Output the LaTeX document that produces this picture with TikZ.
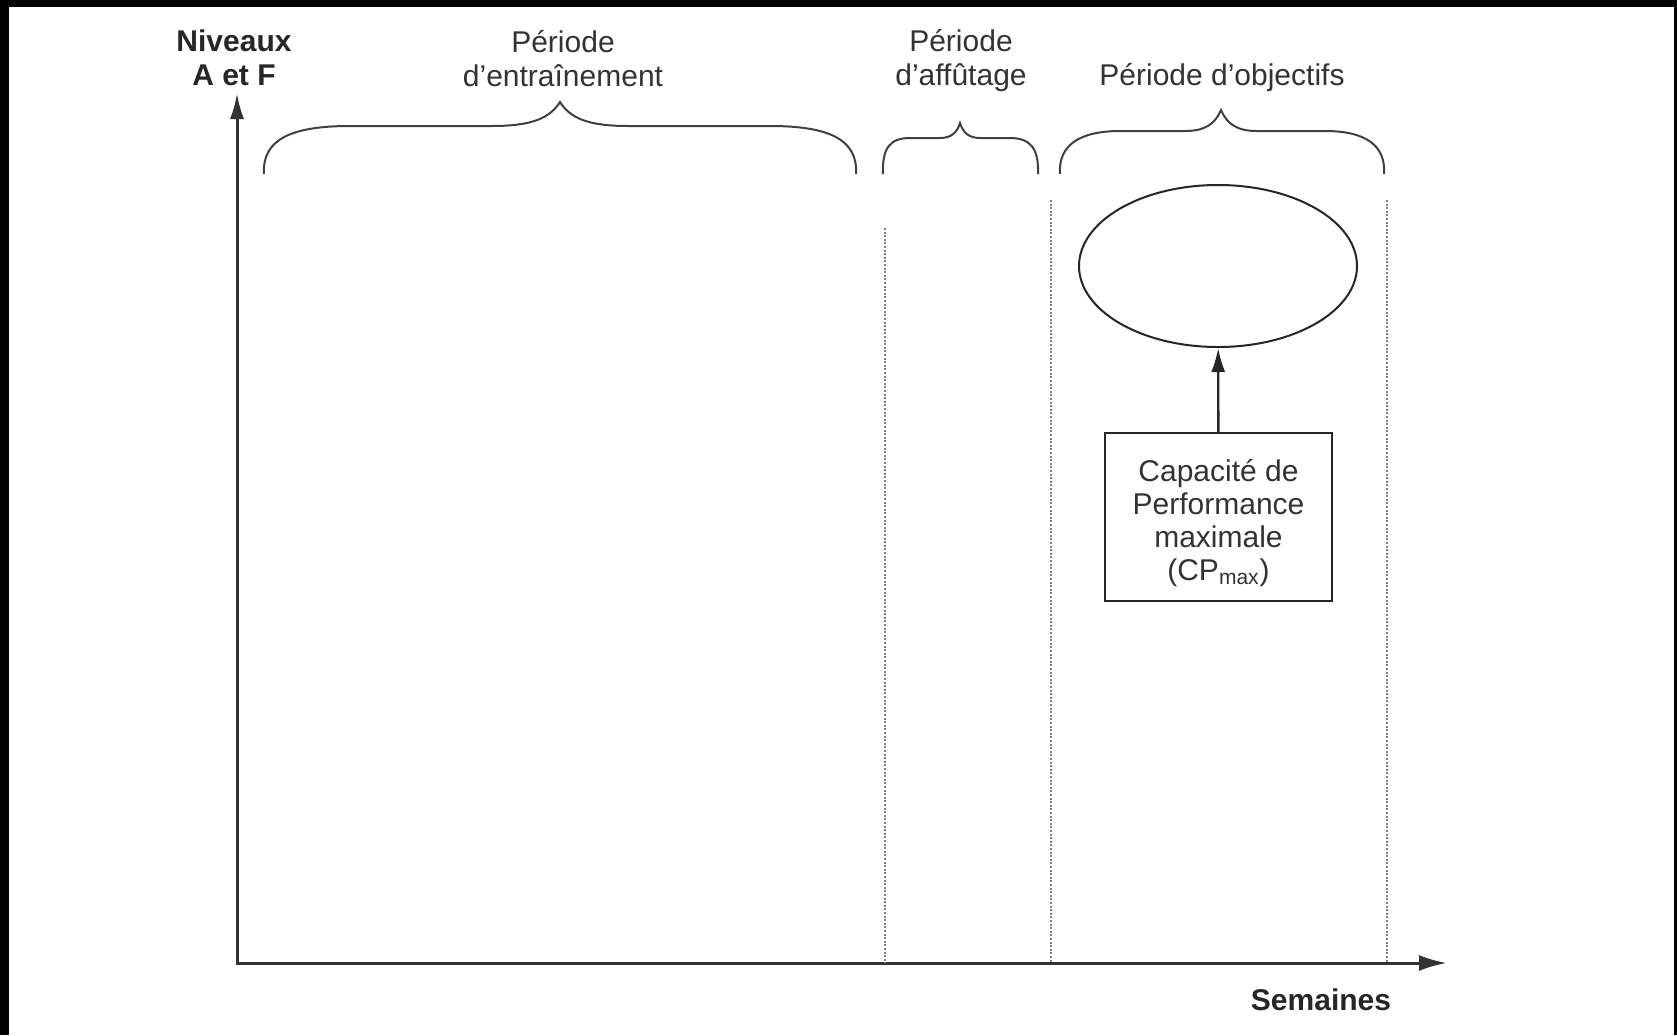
\documentclass[tikz,border=0pt]{standalone}
\usepackage{fontspec}
\setmainfont{Liberation Sans}
\usetikzlibrary{arrows.meta,shapes.geometric}

\begin{document}
\begin{tikzpicture}[x=0.5pt,y=-0.5pt,
  axes/.style={line width=1.5pt, draw=black!80, {Latex[length=13pt,width=7pt]}-{Latex[length=14pt,width=8pt]}},
  accolade/.style={line width=1pt, draw=black!75},
  limite/.style={line width=1.2pt, draw=black!50, dash pattern=on 1pt off 0.8pt},
  titre/.style={align=center, text=black!80, font=\fontsize{15pt}{17pt}\selectfont},
  titregras/.style={align=center, text=black!85, font=\fontsize{15pt}{17pt}\selectfont\bfseries},
  fleche/.style={line width=1.2pt, draw=black!85, -{Latex[length=12pt,width=7pt]}}]
\useasboundingbox (0,0) rectangle (1677,1035);
% Cadre
\fill[black] (0,0) rectangle (1677,1035);
\fill[white] (9,7) rectangle (1674,1035);
% Axes
\coordinate (origine) at (237,963);
\coordinate (ymax) at (237,93);
\coordinate (xmax) at (1447,963);
\draw[axes] (ymax) -- (origine) -- (xmax);
\node[titregras] (niveaux) at (234,58) {Niveaux\\A et F};
\node[titregras] (semaines) at (1321,1000) {Semaines};
% Limites des periodes
\coordinate (lim1) at (885,228);
\coordinate (lim2) at (1051,200);
\coordinate (lim3) at (1387,200);
\draw[limite] (lim1) -- (lim1 |- origine);
\draw[limite] (lim2) -- (lim2 |- origine);
\draw[limite] (lim3) -- (lim3 |- origine);
% Periode d'entrainement
\draw[accolade] (264,174) .. controls (262,140) and (290,126) .. (350,126) -- (492,126)
  .. controls (532,126) and (550,118) .. (560,102) .. controls (570,118) and (588,126) .. (628,126)
  -- (770,126) .. controls (830,126) and (858,140) .. (856,174);
\node[titre] (entr) at (563,59) {Période\\d'entraînement};
% Periode d'affutage
\draw[accolade] (883,174) .. controls (882,148) and (890,138) .. (910,138) -- (940,138)
  .. controls (952,138) and (957,132) .. (960,123) .. controls (963,132) and (968,138) .. (980,138)
  -- (1010,138) .. controls (1030,138) and (1039,148) .. (1038,174);
\node[titre] (affu) at (961,61) {Période\\d'affûtage};
% Periode d'objectifs
\draw[accolade] (1060,174) .. controls (1058,145) and (1080,131) .. (1120,131) -- (1185,131)
  .. controls (1205,131) and (1215,124) .. (1221,110) .. controls (1227,124) and (1237,131) .. (1257,131)
  -- (1325,131) .. controls (1365,131) and (1386,145) .. (1384,174);
\node[titre] (obj) at (1222,78) {Période d'objectifs};
% CPmax
\node[ellipse, draw=black!85, line width=1pt, minimum width=139pt, minimum height=81pt] (pic) at (1218,266) {};
\node[titre, draw=black!85, line width=1.2pt, minimum width=113.5pt, minimum height=84pt,
  font=\fontsize{15pt}{16.5pt}\selectfont] (cpmax) at (1218.5,517) {};
\node[titre, font=\fontsize{15pt}{16.5pt}\selectfont] (cptexte) at (1218.5,523)
  {Capacité de\\Performance\\maximale\\(CP\textsubscript{max})};
\draw[fleche] (cpmax) -- (pic);
\end{tikzpicture}
\end{document}
